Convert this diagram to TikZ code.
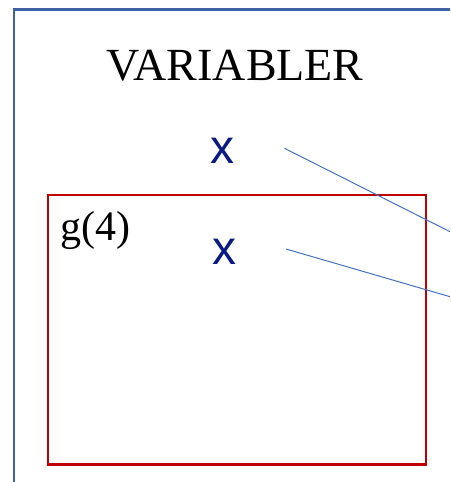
\documentclass[tikz,border=0pt]{standalone}
\usepackage{fontspec}
\setmainfont{Liberation Serif}
\newfontfamily\xfont{Liberation Sans}
\usepackage{tikz}
\usetikzlibrary{positioning,calc}
\definecolor{frameblue}{HTML}{3F62A6}
\definecolor{scopered}{HTML}{C00000}
\definecolor{linkblue}{HTML}{4472C4}
\definecolor{varnavy}{HTML}{0A1A84}

\begin{document}
\begin{tikzpicture}[x=1pt,y=-1pt]
  \useasboundingbox (0,0) rectangle (450,482);
  \clip (0,0) rectangle (450,482);
  % frames
  \draw[frameblue,line width=2.6pt] (14,9.5) rectangle (470,500);
  \draw[scopered,line width=2.6pt] (47.8,195) rectangle (425.8,464.5);
  % texts
  \node[font=\fontsize{46}{46}\selectfont,inner sep=0pt] (title) at (235,66) {VARIABLER};
  \node[font=\fontsize{42}{42}\selectfont,inner sep=0pt,anchor=west] (g) at (60,230) {g(4)};
  \node[font=\xfont\fontsize{48}{48}\selectfont,text=varnavy,inner sep=0pt] (xa) at (222.5,151) {x};
  \node[font=\xfont\fontsize{48}{48}\selectfont,text=varnavy,inner sep=0pt] (xb) at (224.5,252) {x};
  % links
  \coordinate (pa) at (284.5,148.3);
  \coordinate (qa) at (450,231.7);
  \coordinate (pb) at (286,249);
  \coordinate (qb) at (450,296.7);
  \draw[linkblue,line width=1pt] (pa)--(qa);
  \draw[linkblue,line width=1pt] (pb)--(qb);
\end{tikzpicture}
\end{document}
